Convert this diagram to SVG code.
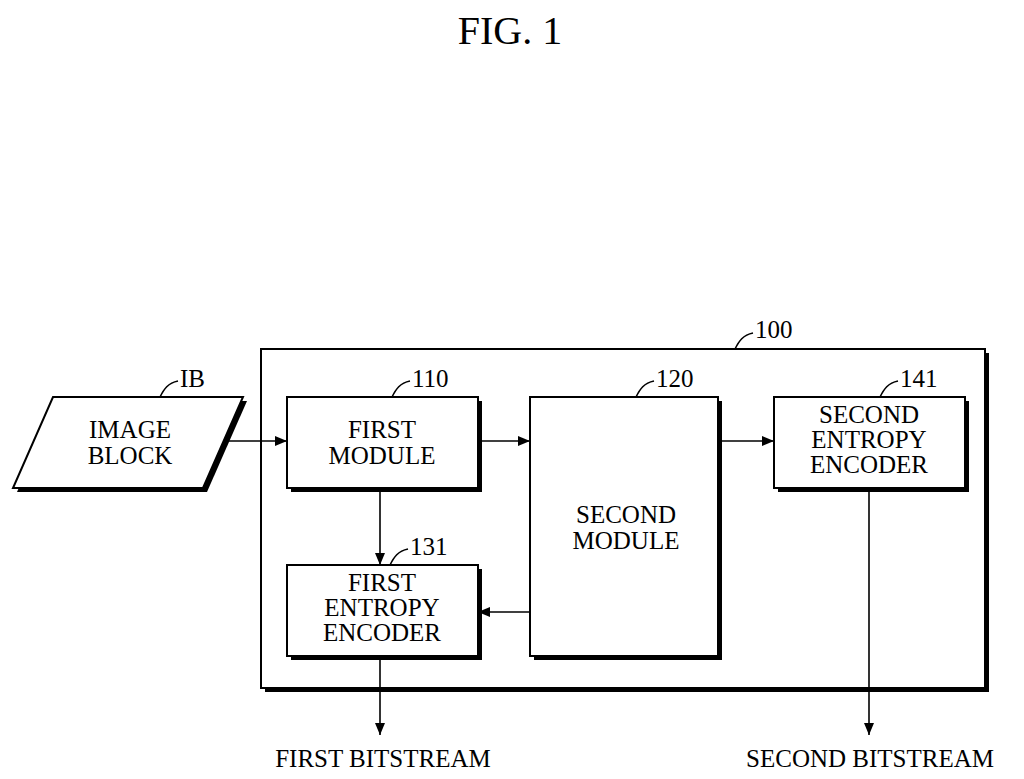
<svg xmlns="http://www.w3.org/2000/svg" width="1024" height="779" viewBox="0 0 1024 779">
<style>
text{font-family:"Liberation Serif","Times New Roman",serif;fill:#000}
.t{font-size:25px;text-anchor:middle}
.r{font-size:25px}
.b{fill:#fff;stroke:#000;stroke-width:2}
.s{fill:#000}
.l{stroke:#000;stroke-width:1.6;fill:none}
</style>
<defs><marker id="a" markerWidth="12" markerHeight="10" refX="12" refY="5" orient="auto" markerUnits="userSpaceOnUse"><path d="M0,0L12,5L0,10z"/></marker></defs>
<rect width="1024" height="779" fill="#fff"/>
<text x="510" y="44" style="font-size:40px;text-anchor:middle">FIG. 1</text>
<g id="n100">
<rect class="s" x="265" y="353" width="724" height="339"/>
<rect class="b" x="261" y="349" width="724" height="339"/>
<path class="l" d="M735,349c4,-8 8,-14 18,-16"/>
<text class="r" x="755" y="338">100</text>
</g>
<g id="ib">
<polygon class="s" points="57,401 247,401 207,492 17,492"/>
<polygon class="b" points="53,397 243,397 203,488 13,488"/>
<text class="t" x="130" y="438">IMAGE</text><text class="t" x="130" y="464">BLOCK</text>
<path class="l" d="M160,397c4,-8 8,-14 18,-16"/>
<text class="r" x="180" y="387">IB</text>
</g>
<g id="n110">
<rect class="s" x="291" y="401" width="191" height="91"/>
<rect class="b" x="287" y="397" width="191" height="91"/>
<text class="t" x="382" y="438">FIRST</text><text class="t" x="382" y="464">MODULE</text>
<path class="l" d="M392,397c4,-8 8,-14 18,-16"/>
<text class="r" x="412" y="387">110</text>
</g>
<g id="n120">
<rect class="s" x="534" y="401" width="188" height="259"/>
<rect class="b" x="530" y="397" width="188" height="259"/>
<text class="t" x="626" y="523">SECOND</text><text class="t" x="626" y="549">MODULE</text>
<path class="l" d="M636,397c4,-8 8,-14 18,-16"/>
<text class="r" x="656" y="387">120</text>
</g>
<g id="n141">
<rect class="s" x="778" y="401" width="191" height="91"/>
<rect class="b" x="774" y="397" width="191" height="91"/>
<text class="t" x="869" y="423">SECOND</text><text class="t" x="869" y="448">ENTROPY</text><text class="t" x="869" y="473">ENCODER</text>
<path class="l" d="M880,397c4,-8 8,-14 18,-16"/>
<text class="r" x="900" y="387">141</text>
</g>
<g id="n131">
<rect class="s" x="291" y="569" width="191" height="91"/>
<rect class="b" x="287" y="565" width="191" height="91"/>
<text class="t" x="382" y="591">FIRST</text><text class="t" x="382" y="616">ENTROPY</text><text class="t" x="382" y="641">ENCODER</text>
<path class="l" d="M390,565c4,-8 8,-14 18,-16"/>
<text class="r" x="410" y="555">131</text>
</g>
<g id="connectors" class="l" marker-end="url(#a)">
<path d="M225,441H287"/>
<path d="M478,441H530"/>
<path d="M718,441H774"/>
<path d="M380,488V565"/>
<path d="M530,612H478"/>
<path d="M380,656V735"/>
<path d="M869,488V735"/>
</g>
<text class="t" x="383" y="767">FIRST BITSTREAM</text>
<text class="t" x="870" y="767">SECOND BITSTREAM</text>
</svg>
